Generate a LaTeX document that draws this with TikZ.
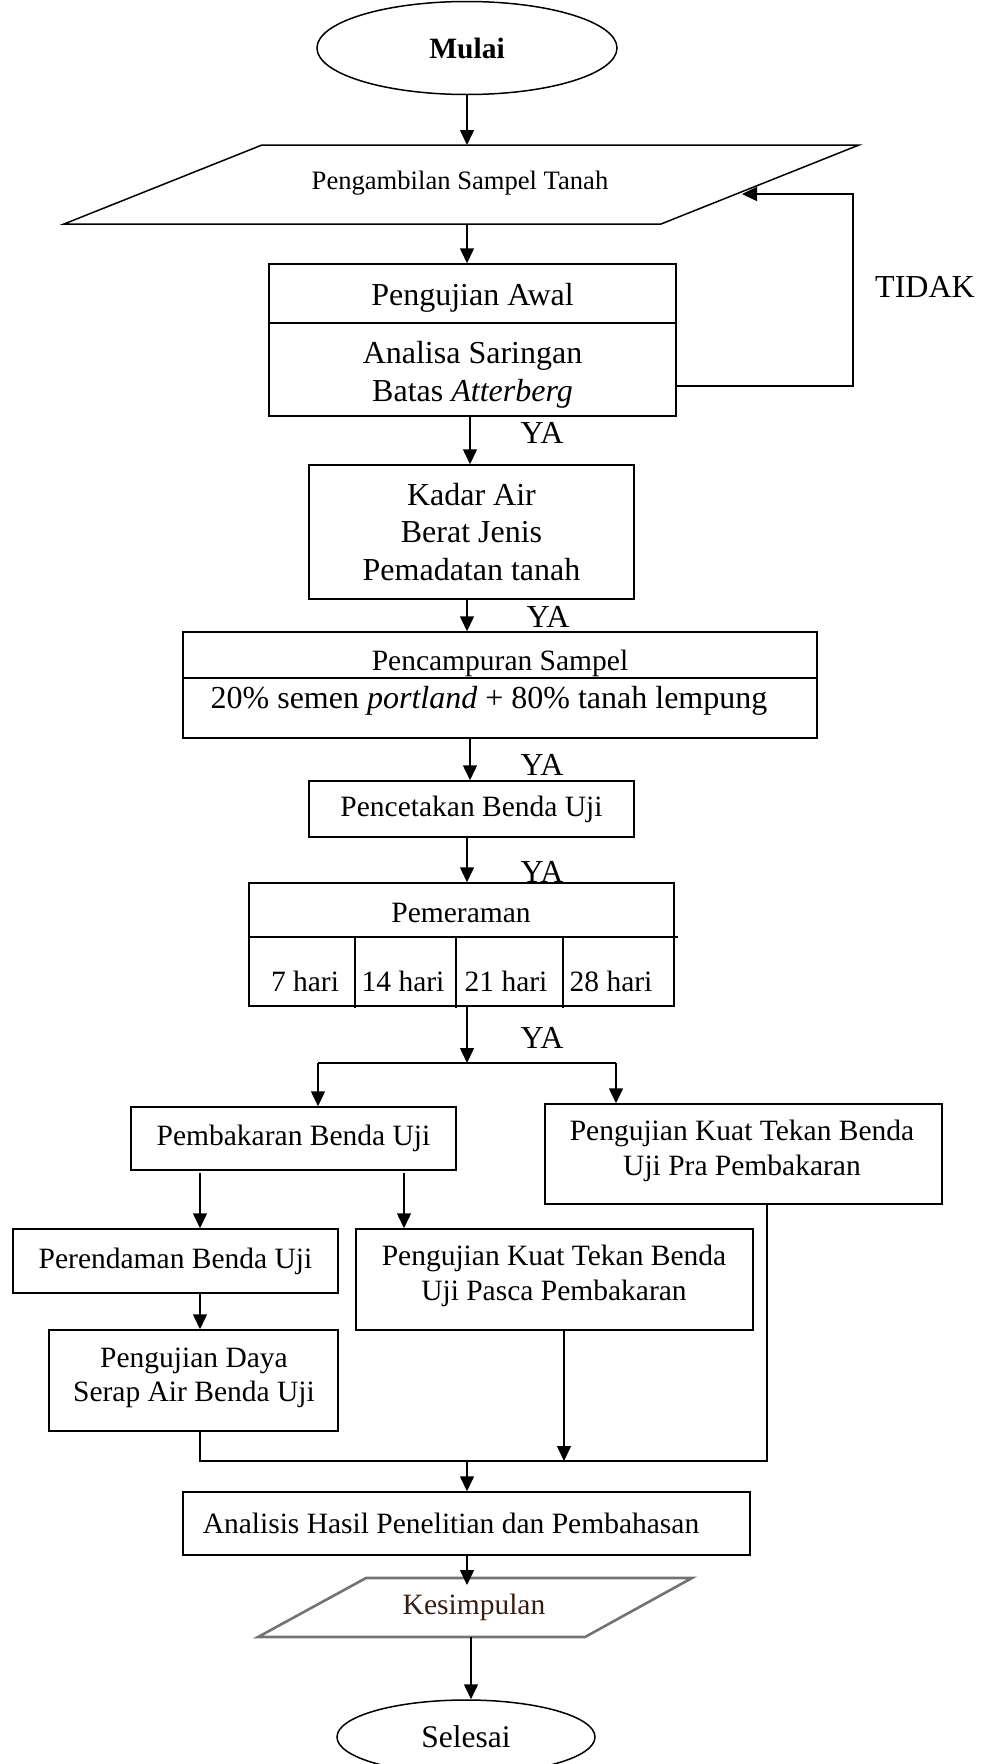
\documentclass[tikz,border=0pt]{standalone}
\usepackage{fontspec}
\setmainfont{Liberation Serif}
\usetikzlibrary{arrows.meta,shapes.geometric}
\begin{document}
\begin{tikzpicture}[x=1pt,y=-1pt,
  every node/.style={font=\fontsize{29.5}{37}\selectfont},
  big/.style={font=\fontsize{32}{38}\selectfont},
  box/.style={draw, line width=1.5pt, inner sep=0pt, rectangle, align=center},
  txt/.style={align=center, inner sep=0pt},
  arr/.style={line width=1.5pt, -{Triangle[length=15pt,width=14pt]}},
  ln/.style={line width=1.5pt},
  oval/.style={draw, ellipse, line width=1.5pt, inner sep=0pt},
]
\useasboundingbox (0,0) rectangle (982,1764);
\coordinate (sp) at (467,0);

% start
\node[oval, minimum width=300pt, minimum height=93pt] (mulai) at (467,48) {\textbf{Mulai}};

% parallelogram 1
\draw[ln] (262,145) -- (859,145) -- (661,224) -- (64,224) -- cycle;
\node[txt, font=\fontsize{26.6}{32}\selectfont] (ambil) at (460,183) {Pengambilan Sampel Tanah};
\coordinate (ambilN) at (467,145);
\coordinate (ambilS) at (467,224);
\coordinate (ambilE) at (742,194);

% pengujian awal
\node[box, minimum width=407pt, minimum height=152pt] (awal) at (472.5,340) {};
\draw[ln] (269,323) -- (676,323);
\node[txt, big] (awal1) at (472.5,298) {Pengujian Awal};
\node[txt, big] (awal2) at (472.5,375) {Analisa Saringan\\Batas \textit{Atterberg}};

% kadar air
\node[box, big, font=\fontsize{32}{37.5}\selectfont, minimum width=325pt, minimum height=134pt] (kadar) at (471.5,532) {Kadar Air\\Berat Jenis\\Pemadatan tanah};

% pencampuran
\node[box, minimum width=634pt, minimum height=106pt] (campur) at (500,685) {};
\draw[ln] (183,678) -- (817,678);
\node[txt] (campur1) at (500,663) {Pencampuran Sampel};
\node[txt, big] (campur2) at (489,701) {20\% semen \textit{portland} + 80\% tanah lempung};

% pencetakan
\node[box, minimum width=325pt, minimum height=56pt] (cetak) at (471.5,809) {Pencetakan Benda Uji};

% pemeraman
\node[box, minimum width=425pt, minimum height=123pt] (peram) at (461.5,944.5) {};
\draw[ln] (250,937) -- (678,937);
\draw[ln] (355,937) -- (355,1008);
\draw[ln] (456,937) -- (456,1008);
\draw[ln] (563,937) -- (563,1008);
\node[txt] (peram0) at (461,913) {Pemeraman};
\node[txt] (h7) at (305,981) {7 hari};
\node[txt] (h14) at (403,981) {14 hari};
\node[txt] (h21) at (506,981) {21 hari};
\node[txt] (h28) at (611,981) {28 hari};

% branches
\node[box, minimum width=325pt, minimum height=63pt] (bakar) at (293.5,1138.5) {Pembakaran Benda Uji};
\node[box, minimum width=397pt, minimum height=100pt] (pra) at (743.5,1154) {};
\node[txt] (pratext) at (742,1151) {Pengujian Kuat Tekan Benda\\[-2pt]Uji Pra Pembakaran};
\node[box, minimum width=325pt, minimum height=64pt] (rendam) at (175.5,1261) {Perendaman Benda Uji};
\node[box, minimum width=397pt, minimum height=101pt] (pasca) at (554.5,1279.5) {};
\node[txt] (pascatext) at (554,1276) {Pengujian Kuat Tekan Benda\\[-2pt]Uji Pasca Pembakaran};
\node[box, minimum width=289pt, minimum height=101pt] (daya) at (193.5,1380.5) {};
\node[txt] (dayatext) at (194,1378) {Pengujian Daya\\[-3pt]Serap Air Benda Uji};

% analisis
\node[box, minimum width=567pt, minimum height=63pt] (analisis) at (466.5,1523.5) {};
\node[txt] (anatext) at (451,1523) {Analisis Hasil Penelitian dan Pembahasan};

% kesimpulan
\draw[line width=2.6pt, draw={rgb,255:red,115;green,115;blue,115}] (366,1578) -- (692,1578) -- (585,1637) -- (258,1637) -- cycle;
\node[txt, text={rgb,255:red,55;green,30;blue,20}] (kes) at (474,1607) {Kesimpulan};
\coordinate (kesN) at (467,1585);
\coordinate (kesS) at (471,1637);

% end
\node[oval, font=\fontsize{31.5}{37}\selectfont, minimum width=258pt, minimum height=74pt] (selesai) at (466,1737) {Selesai};

% labels
\node[txt, big] (tidak) at (925,287) {TIDAK};
\node[txt, big] (ya1) at (542,433) {YA};
\node[txt, big] (ya2) at (548,617) {YA};
\node[txt, big] (ya3) at (542,765) {YA};
\node[txt, big] (ya4) at (542,872) {YA};
\node[txt, big] (ya5) at (542,1038) {YA};

% connectors
\draw[arr] (mulai) -- (ambilN);
\draw[arr] (ambilS) -- (sp |- awal.north);
\coordinate (loopA) at (676,386);
\coordinate (loopB) at (853,386);
\coordinate (loopC) at (853,194);
\draw[arr] (loopA) -- (loopB) -- (loopC) -- (ambilE);
\coordinate (sp2) at (470,0);
\draw[arr] (sp2 |- awal.south) -- (sp2 |- kadar.north);
\draw[arr] (sp |- kadar.south) -- (sp |- campur.north);
\draw[arr] (sp2 |- campur.south) -- (sp2 |- cetak.north);
\draw[arr] (sp |- cetak.south) -- (sp |- peram.north);
\coordinate (split) at (467,1063);
\coordinate (sL) at (318,1063);
\coordinate (sR) at (616,1063);
\draw[arr] (sp |- peram.south) -- (split);
\draw[ln] (sL) -- (sR);
\draw[arr] (sL) -- (sL |- bakar.north);
\draw[arr] (sR) -- (sR |- pra.north);
\coordinate (b1) at (200,1173);
\coordinate (b2) at (404,1173);
\draw[arr] (b1) -- (b1 |- rendam.north);
\draw[arr] (b2) -- (b2 |- pasca.north);
\draw[arr] (b1 |- rendam.south) -- (b1 |- daya.north);
\coordinate (m1) at (200,1461);
\coordinate (m2) at (767,1461);
\coordinate (m3) at (564,1461);
\draw[ln] (b1 |- daya.south) -- (m1) -- (m2) -- (m2 |- pra.south);
\draw[arr] (m3 |- pasca.south) -- (m3);
\draw[arr] (sp |- m1) -- (sp |- analisis.north);
\draw[arr] (sp |- analisis.south) -- (kesN);
\draw[arr] (kesS) -- (kesS |- selesai.north);
\end{tikzpicture}
\end{document}
